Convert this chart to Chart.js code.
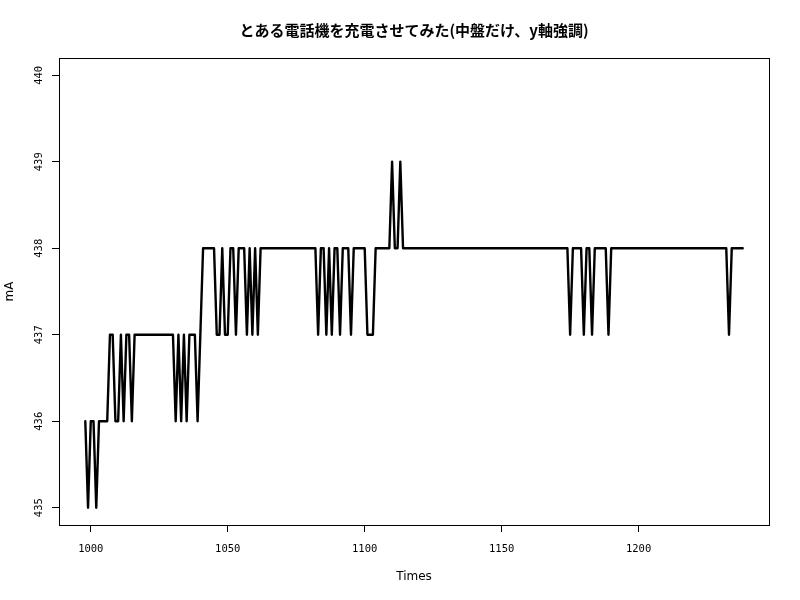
<!DOCTYPE html>
<html><head><meta charset="utf-8">
<script src="https://cdn.jsdelivr.net/npm/chart.js@4/dist/chart.umd.min.js"></script>
<style>html,body{margin:0;padding:0;background:#fff}#wrap{width:800px;height:600px}</style>
</head><body><div id="wrap"><canvas id="c" width="800" height="600"></canvas></div>
<script>
const titleText = "とある電話機を充電させてみた(中盤だけ、y軸強調)";
const xTitle = "Times";
const yTitle = "mA";
const times = [
 998, 999,1000,1001,1002,1003,1004,1005,1006,1007,
1008,1009,1010,1011,1012,1013,1014,1015,1016,1017,
1018,1019,1020,1021,1022,1023,1024,1025,1026,1027,
1028,1029,1030,1031,1032,1033,1034,1035,1036,1037,
1038,1039,1040,1041,1042,1043,1044,1045,1046,1047,
1048,1049,1050,1051,1052,1053,1054,1055,1056,1057,
1058,1059,1060,1061,1062,1063,1064,1065,1066,1067,
1068,1069,1070,1071,1072,1073,1074,1075,1076,1077,
1078,1079,1080,1081,1082,1083,1084,1085,1086,1087,
1088,1089,1090,1091,1092,1093,1094,1095,1096,1097,
1098,1099,1100,1101,1102,1103,1104,1105,1106,1107,
1108,1109,1110,1111,1112,1113,1114,1115,1116,1117,
1118,1119,1120,1121,1122,1123,1124,1125,1126,1127,
1128,1129,1130,1131,1132,1133,1134,1135,1136,1137,
1138,1139,1140,1141,1142,1143,1144,1145,1146,1147,
1148,1149,1150,1151,1152,1153,1154,1155,1156,1157,
1158,1159,1160,1161,1162,1163,1164,1165,1166,1167,
1168,1169,1170,1171,1172,1173,1174,1175,1176,1177,
1178,1179,1180,1181,1182,1183,1184,1185,1186,1187,
1188,1189,1190,1191,1192,1193,1194,1195,1196,1197,
1198,1199,1200,1201,1202,1203,1204,1205,1206,1207,
1208,1209,1210,1211,1212,1213,1214,1215,1216,1217,
1218,1219,1220,1221,1222,1223,1224,1225,1226,1227,
1228,1229,1230,1231,1232,1233,1234,1235,1236,1237,
1238];
const mA = [
436,435,436,436,435,436,436,436,436,437,
437,436,436,437,436,437,437,436,437,437,
437,437,437,437,437,437,437,437,437,437,
437,437,437,436,437,436,437,436,437,437,
437,436,437,438,438,438,438,438,437,437,
438,437,437,438,438,437,438,438,438,437,
438,437,438,437,438,438,438,438,438,438,
438,438,438,438,438,438,438,438,438,438,
438,438,438,438,438,437,438,438,437,438,
437,438,438,437,438,438,438,437,438,438,
438,438,438,437,437,437,438,438,438,438,
438,438,439,438,438,439,438,438,438,438,
438,438,438,438,438,438,438,438,438,438,
438,438,438,438,438,438,438,438,438,438,
438,438,438,438,438,438,438,438,438,438,
438,438,438,438,438,438,438,438,438,438,
438,438,438,438,438,438,438,438,438,438,
438,438,438,438,438,438,438,437,438,438,
438,438,437,438,438,437,438,438,438,438,
438,437,438,438,438,438,438,438,438,438,
438,438,438,438,438,438,438,438,438,438,
438,438,438,438,438,438,438,438,438,438,
438,438,438,438,438,438,438,438,438,438,
438,438,438,438,438,437,438,438,438,438,
438];
const xTicks = [1000,1050,1100,1150,1200];
const yTicks = [435,436,437,438,439,440];

const points = times.map((t,i)=>({x:t, y:mA[i]}));
const tickFont = '"DejaVu Sans Mono", monospace';

const decor = {
  id:'decor',
  afterDraw(chart){
    const ctx = chart.ctx, a = chart.chartArea;
    ctx.save();
    ctx.strokeStyle = '#000'; ctx.lineWidth = 1;
    ctx.strokeRect(Math.round(a.left)+0.5, Math.round(a.top)+0.5, Math.round(a.right-a.left), Math.round(a.bottom-a.top));
    ctx.fillStyle = '#000';
    ctx.font = 'bold 15px "Noto Sans CJK JP"';
    ctx.textAlign = 'center'; ctx.textBaseline = 'middle';
    ctx.fillText(titleText, (a.left+a.right)/2, 30);
    ctx.font = '12px "DejaVu Sans"';
    ctx.fillText(xTitle, (a.left+a.right)/2, 577);
    ctx.save(); ctx.translate(10, (a.top+a.bottom)/2); ctx.rotate(-Math.PI/2);
    ctx.fillText(yTitle, 0, 0); ctx.restore();
    const ys = chart.scales.y;
    ctx.font = '10.5px ' + tickFont;
    yTicks.forEach(v=>{
      const py = ys.getPixelForValue(v);
      ctx.save(); ctx.translate(39, py); ctx.rotate(-Math.PI/2);
      ctx.fillText(String(v), 0, 0); ctx.restore();
    });
    ctx.restore();
  }
};

new Chart(document.getElementById('c'), {
  type:'line',
  data:{datasets:[{data:points, borderColor:'#000', borderWidth:2.4, pointRadius:0, tension:0,
    borderJoinStyle:'round', borderCapStyle:'round', fill:false}]},
  options:{
    responsive:false, animation:false, devicePixelRatio:1,
    layout:{padding:{top:58,right:31,left:0,bottom:0}},
    plugins:{legend:{display:false}, title:{display:false}, tooltip:{enabled:false}},
    scales:{
      x:{type:'linear', min:988.4, max:1247.6,
        afterBuildTicks:s=>{s.ticks = xTicks.map(v=>({value:v}));},
        afterFit:s=>{s.height = 75;},
        ticks:{color:'#000', font:{family:tickFont, size:10.5}, padding:11, maxRotation:0, autoSkip:false,
          callback:v=>String(v)},
        grid:{drawOnChartArea:false, drawTicks:true, tickLength:7, color:'#000', lineWidth:1},
        border:{display:true, color:'#000'}},
      y:{type:'linear', min:434.8, max:440.2,
        afterBuildTicks:s=>{s.ticks = yTicks.map(v=>({value:v}));},
        afterFit:s=>{s.width = 59;},
        ticks:{display:false},
        grid:{drawOnChartArea:false, drawTicks:true, tickLength:7, color:'#000', lineWidth:1},
        border:{display:true, color:'#000'}}
    }
  },
  plugins:[decor]
});
</script></body></html>
